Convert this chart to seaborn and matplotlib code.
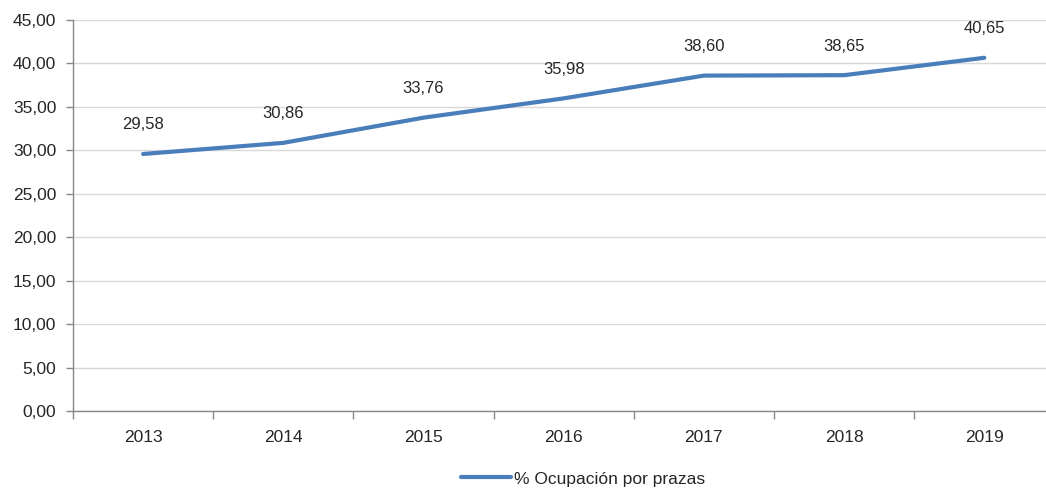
"""Ocupación por prazas, 2013-2019."""

import matplotlib.pyplot as plt
import numpy as np
import pandas as pd
import seaborn as sns
from matplotlib.ticker import FixedLocator

years = ["2013", "2014", "2015", "2016", "2017", "2018", "2019"]
occupancy = [29.58, 30.86, 33.76, 35.98, 38.60, 38.65, 40.65]
series_name = "% Ocupación por prazas"
y_ticks = [0, 5, 10, 15, 20, 25, 30, 35, 40, 45]

sns.set_style("white")
plt.rcParams["font.family"] = ["Liberation Sans", "DejaVu Sans"]

LINE_COLOR = "#4A7EBB"
AXIS_COLOR = "#888888"
GRID_COLOR = "#D9D9D9"
TEXT_COLOR = "#262626"


def fmt(v):
    return f"{v:.2f}".replace(".", ",")


def main():
    df = pd.DataFrame({"year": years, "value": occupancy, "serie": series_name})

    fig = plt.figure(figsize=(10.46, 4.94), dpi=100)
    ax = fig.add_axes([73 / 1046, 83 / 494, 1 - 73 / 1046, 391 / 494])

    sns.lineplot(data=df, x="year", y="value", hue="serie", palette=[LINE_COLOR],
                 linewidth=3, ax=ax, sort=False)

    for i, v in enumerate(occupancy):
        ax.annotate(fmt(v), (i, v), xytext=(0, 21), textcoords="offset points",
                    ha="center", va="center", fontsize=12, color=TEXT_COLOR)

    ax.set_ylim(0, 45)
    ax.set_xlim(-0.5, 6.44)
    ax.set_yticks(y_ticks)
    ax.set_yticklabels([fmt(t) for t in y_ticks])
    ax.set_xticks(range(len(years)))
    ax.set_xticklabels(years)
    ax.xaxis.set_minor_locator(FixedLocator(np.arange(-0.5, len(years), 1.0)))

    ax.grid(axis="y", color=GRID_COLOR, linewidth=1)
    ax.set_axisbelow(True)
    ax.set_xlabel("")
    ax.set_ylabel("")

    for side in ["top", "right"]:
        ax.spines[side].set_visible(False)
    for side in ["left", "bottom"]:
        ax.spines[side].set_color(AXIS_COLOR)
        ax.spines[side].set_linewidth(1)

    ax.tick_params(axis="y", which="major", length=5, width=1, color=AXIS_COLOR,
                   labelsize=12.5, labelcolor=TEXT_COLOR, pad=7, left=True)
    ax.tick_params(axis="x", which="major", length=0, labelsize=12.5,
                   labelcolor=TEXT_COLOR, pad=14)
    ax.tick_params(axis="x", which="minor", length=6, width=1, color=AXIS_COLOR,
                   bottom=True)

    ax.legend(loc="center", bbox_to_anchor=(583 / 1046, 15 / 494),
              bbox_transform=fig.transFigure, frameon=False,
              fontsize=12.5, handlelength=2.9, handletextpad=0.15,
              labelcolor=TEXT_COLOR)

    fig.savefig("out.png", dpi=100)


if __name__ == '__main__':
    main()
